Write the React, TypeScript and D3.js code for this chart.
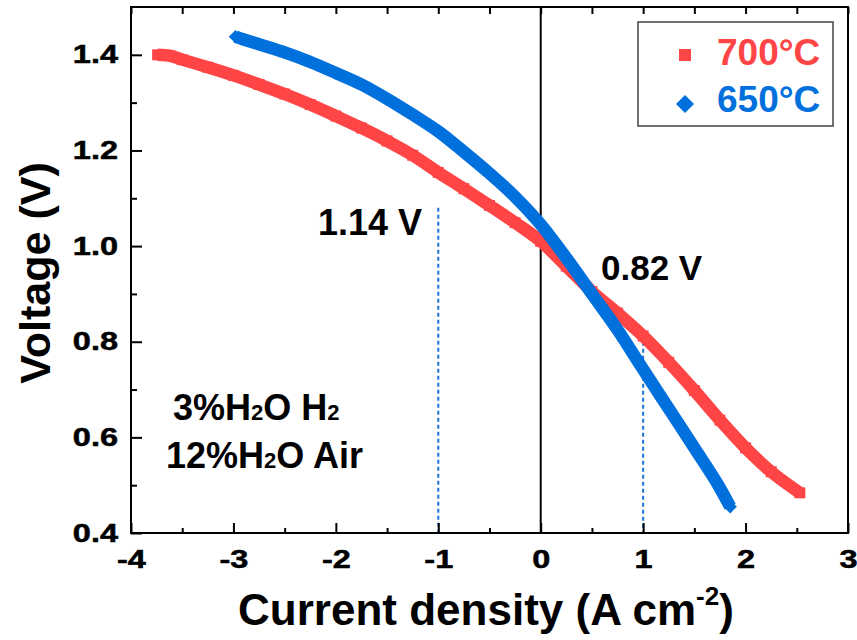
import { useEffect, useRef } from "react";
import * as d3 from "d3";

const width = 857;
const height = 640;
const plot = { left: 131, right: 848, top: 7, bottom: 533 };

// 700 °C polarisation curve
const redCurrent = [-3.74, -3.62, -3.5, -3.25, -3.0, -2.75, -2.5, -2.25, -2.0, -1.75, -1.5, -1.25, -1.0, -0.75, -0.5, -0.25, 0, 0.25, 0.5, 0.75, 1.0, 1.25, 1.5, 1.75, 2.0, 2.25, 2.53];
const redVoltage = [1.4, 1.398, 1.39, 1.374, 1.357, 1.338, 1.318, 1.296, 1.272, 1.247, 1.22, 1.19, 1.154, 1.12, 1.085, 1.049, 1.01, 0.958, 0.905, 0.86, 0.812, 0.757, 0.698, 0.636, 0.578, 0.528, 0.484];

// 650 °C polarisation curve
const blueCurrent = [-2.98, -2.9, -2.75, -2.5, -2.25, -2.0, -1.75, -1.5, -1.25, -1.0, -0.75, -0.5, -0.25, 0, 0.25, 0.5, 0.75, 1.0, 1.25, 1.5, 1.75, 1.85];
const blueVoltage = [1.438, 1.432, 1.422, 1.405, 1.385, 1.362, 1.338, 1.308, 1.275, 1.24, 1.197, 1.152, 1.103, 1.045, 0.975, 0.9, 0.825, 0.742, 0.66, 0.578, 0.494, 0.455];

const seriesNames = ["700°C", "650°C"];
const seriesColors = ["#ff4545", "#0070dd"];

const xMajor = [-4, -3, -2, -1, 0, 1, 2, 3];
const xMinor = [-3.5, -2.5, -1.5, -0.5, 0.5, 1.5, 2.5];
const yMajor = [0.4, 0.6, 0.8, 1.0, 1.2, 1.4];
const yMinor = [0.5, 0.7, 0.9, 1.1, 1.3];

// dashed guides: current, top voltage of the guide
const guideCurrent = [-1, 1];
const guideTop = [1.08, 0.8];
const guideLabels = ["1.14 V", "0.82 V"];

const font = "'Liberation Sans', Arial, sans-serif";

const x = d3.scaleLinear().domain([-4, 3]).range([plot.left, plot.right]);
const y = d3.scaleLinear().domain([0.4, 1.5]).range([plot.bottom, plot.top]);

const App = () => {
  const axesRef = useRef<SVGGElement | null>(null);

  useEffect(() => {
    const g = d3.select(axesRef.current);
    g.selectAll("*").remove();

    const fmtX = (d: any) => d3.format("d")(d).replace("−", "-");
    const fmtY = (d: any) => d3.format(".1f")(d);

    // bottom major
    g.append("g")
      .attr("transform", `translate(0,${plot.bottom})`)
      .call(d3.axisBottom(x).tickValues(xMajor).tickSizeInner(-10).tickSizeOuter(0).tickPadding(17).tickFormat(fmtX));
    // bottom minor
    g.append("g")
      .attr("transform", `translate(0,${plot.bottom})`)
      .call(d3.axisBottom(x).tickValues(xMinor).tickSizeInner(-5).tickSizeOuter(0).tickFormat(() => ""));
    // top ticks
    g.append("g")
      .attr("transform", `translate(0,${plot.top})`)
      .call(d3.axisTop(x).tickValues([...xMajor, ...xMinor]).tickSizeInner(-7).tickSizeOuter(0).tickFormat(() => ""));
    // left major
    g.append("g")
      .attr("transform", `translate(${plot.left},0)`)
      .call(d3.axisLeft(y).tickValues(yMajor).tickSizeInner(-11).tickSizeOuter(0).tickPadding(10).tickFormat(fmtY));
    // left minor
    g.append("g")
      .attr("transform", `translate(${plot.left},0)`)
      .call(d3.axisLeft(y).tickValues(yMinor).tickSizeInner(-6).tickSizeOuter(0).tickFormat(() => ""));

    g.selectAll(".domain").remove();
    g.selectAll(".tick line").attr("stroke", "#000").attr("stroke-width", 2);
    g.selectAll(".tick text")
      .attr("fill", "#000")
      .attr("stroke", "#000")
      .attr("stroke-width", 0.5)
      .style("font-family", font)
      .style("font-size", "25px")
      .style("font-weight", "bold")
      .attr("transform", "scale(1.3,1)");
  }, []);

  const pathFor = (xs: number[], vs: number[]) =>
    d3
      .line<[number, number]>()
      .x((d) => x(d[0]))
      .y((d) => y(d[1]))
      .curve(d3.curveMonotoneX)(xs.map((c, i) => [c, vs[i]] as [number, number]));

  const square = d3.symbol().type(d3.symbolSquare).size(121)();
  const diamond = d3.symbol().type(d3.symbolSquare).size(90)();
  const legendSquare = d3.symbol().type(d3.symbolSquare).size(144)();
  const legendDiamond = d3.symbol().type(d3.symbolSquare).size(162)();

  return (
    <svg width={width} height={height} style={{ position: "absolute", left: 0, top: 0, background: "#fff" }}>
      {/* zero line */}
      <line x1={x(0)} x2={x(0)} y1={plot.top} y2={plot.bottom} stroke="#000" strokeWidth={2} />

      {/* dashed guides */}
      {guideCurrent.map((c, i) => (
        <line
          key={i}
          x1={x(c)}
          x2={x(c)}
          y1={y(guideTop[i])}
          y2={plot.bottom}
          stroke="#1a73d9"
          strokeWidth={2}
          strokeDasharray="4,3"
        />
      ))}

      {/* 700 °C */}
      <path d={pathFor(redCurrent, redVoltage) || ""} fill="none" stroke={seriesColors[0]} strokeWidth={12.5} />
      {redCurrent.map((c, i) => (
        <path key={i} d={square || ""} transform={`translate(${x(c)},${y(redVoltage[i])})`} fill={seriesColors[0]} />
      ))}

      {/* 650 °C */}
      <path d={pathFor(blueCurrent, blueVoltage) || ""} fill="none" stroke={seriesColors[1]} strokeWidth={12.5} />
      {blueCurrent.map((c, i) => (
        <path
          key={i}
          d={diamond || ""}
          transform={`translate(${x(c)},${y(blueVoltage[i])}) rotate(45)`}
          fill={seriesColors[1]}
        />
      ))}

      {/* frame */}
      <rect
        x={plot.left}
        y={plot.top}
        width={plot.right - plot.left}
        height={plot.bottom - plot.top}
        fill="none"
        stroke="#000"
        strokeWidth={2}
      />
      <g ref={axesRef} />

      {/* annotations */}
      <g fontFamily={font} fontWeight="bold" fill="#000">
        <text x={318} y={235} fontSize={36}>{guideLabels[0]}</text>
        <text x={601} y={280} fontSize={35}>{guideLabels[1]}</text>
        <text x={173} y={420} fontSize={36}>
          3%H<tspan fontSize={22}>2</tspan>O H<tspan fontSize={22}>2</tspan>
        </text>
        <text x={166} y={468} fontSize={36}>
          12%H<tspan fontSize={22}>2</tspan>O Air
        </text>
      </g>

      {/* axis titles */}
      <text
        transform="translate(50,273) rotate(-90)"
        textAnchor="middle"
        fontFamily={font}
        fontWeight="bold"
        fontSize={43}
      >
        Voltage (V)
      </text>
      <text x={486} y={625} textAnchor="middle" fontFamily={font} fontWeight="bold" fontSize={44}>
        Current density (A cm<tspan fontSize={26} dy={-20}>-2</tspan>
        <tspan dy={20}>)</tspan>
      </text>

      {/* legend */}
      <rect x={638} y={22} width={195} height={104} fill="#fff" stroke="#444" strokeWidth={1.5} />
      <path d={legendSquare || ""} transform="translate(685,55)" fill={seriesColors[0]} />
      <text x={717} y={65} fontFamily={font} fontWeight="bold" fontSize={37} fill={seriesColors[0]}>
        {seriesNames[0]}
      </text>
      <path d={legendDiamond || ""} transform="translate(685,104) rotate(45)" fill={seriesColors[1]} />
      <text x={717} y={112} fontFamily={font} fontWeight="bold" fontSize={37} fill={seriesColors[1]}>
        {seriesNames[1]}
      </text>
    </svg>
  );
};

export default App;
